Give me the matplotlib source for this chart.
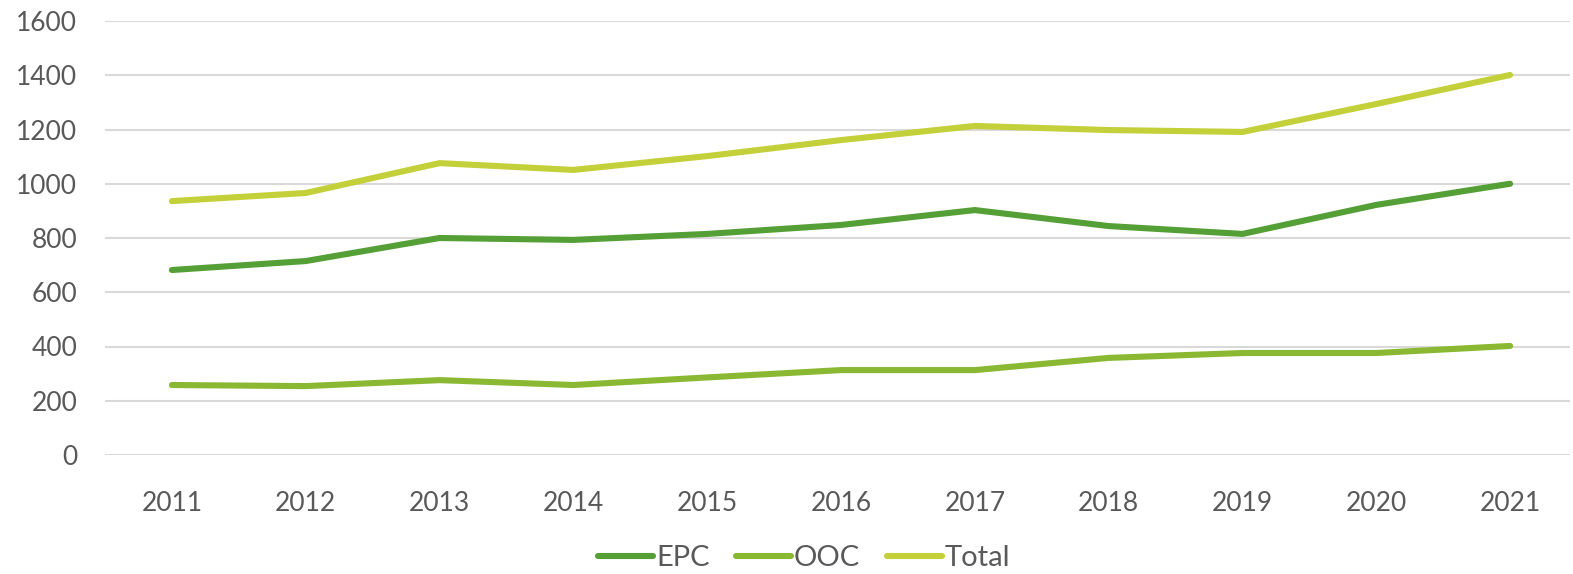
import matplotlib
matplotlib.use("Agg")
import matplotlib.pyplot as plt

years = ["2011", "2012", "2013", "2014", "2015", "2016", "2017", "2018", "2019", "2020", "2021"]
epc = [682, 715, 800, 793, 815, 848, 903, 844, 815, 922, 1000]
ooc = [258, 254, 276, 258, 286, 313, 313, 358, 376, 376, 402]
total = [936, 966, 1076, 1051, 1102, 1161, 1213, 1198, 1191, 1294, 1401]
yticks = [0, 200, 400, 600, 800, 1000, 1200, 1400, 1600]

plt.rcParams['font.family'] = ['Lato', 'DejaVu Sans']
fig = plt.figure(figsize=(15.73, 5.74), dpi=100)
ax = fig.add_axes([105/1573, 1-455/574, (1570-105)/1573, (455-21)/574])

x = list(range(len(years)))
ax.plot(x, epc, color="#559F37", lw=4.4, solid_capstyle="round", label="EPC", zorder=3)
ax.plot(x, ooc, color="#8AB833", lw=4.4, solid_capstyle="round", label="OOC", zorder=3)
ax.plot(x, total, color="#C3D03A", lw=4.4, solid_capstyle="round", label="Total", zorder=3)

ax.set_xlim(-0.5, 10.5 + (1570-1577)/133.8)
ax.set_ylim(0, 1600)
ax.set_yticks(yticks)
ax.set_xticks(x)
ax.set_xticklabels(years)
ax.grid(axis="y", color="#D9D9D9", lw=1.5)
ax.set_axisbelow(True)
for s in ax.spines.values():
    s.set_visible(False)
ax.tick_params(axis="both", length=0, labelsize=19, colors="#595959")
ax.tick_params(axis="y", pad=20)
ax.tick_params(axis="x", pad=26)
for lab in ax.get_yticklabels():
    lab.set_horizontalalignment("right")

leg = fig.legend(loc="center", bbox_to_anchor=(804/1573, 1-558/574), ncol=3, frameon=False,
                 fontsize=21, handlelength=1.9, handletextpad=0.1, columnspacing=0.9,
                 labelcolor="#595959")
fig.savefig("out.png", dpi=100)
